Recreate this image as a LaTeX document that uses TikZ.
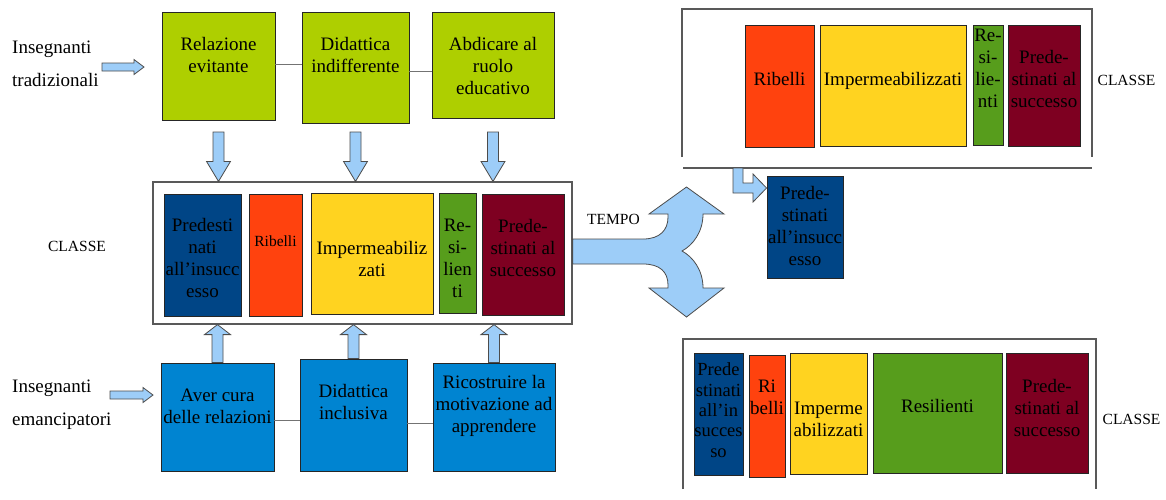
\documentclass[tikz,border=0pt]{standalone}
\usepackage{fontspec}
\setmainfont{Liberation Serif}
\usetikzlibrary{fit,calc}
\definecolor{cLime}{HTML}{AECF00}
\definecolor{cBlue}{HTML}{0084D1}
\definecolor{cDark}{HTML}{004586}
\definecolor{cOrange}{HTML}{FF420E}
\definecolor{cYellow}{HTML}{FFD320}
\definecolor{cGreen}{HTML}{579D1C}
\definecolor{cMaroon}{HTML}{7E0021}
\definecolor{cArrow}{HTML}{9DCDF8}
\newcommand\fbig{\fontsize{19}{22}\selectfont}
\newcommand\fmid{\fontsize{18.5}{20.3}\selectfont}
\newcommand\fsm{\fontsize{15.5}{18}\selectfont}
\newcommand\flab{\fontsize{19}{33}\selectfont}
\newcommand\dnblk[2]{\draw[blk] let \p1=(#1.south), \p2=(#2.north) in
 (\x1-5.5pt,-132pt) -- (\x1+5.5pt,-132pt) -- (\x1+5.5pt,\y2+20pt) -- (\x1+12pt,\y2+20pt) -- (\x1,\y2) -- (\x1-12pt,\y2+20pt) -- (\x1-5.5pt,\y2+20pt) -- cycle;}
\newcommand\upblk[2]{\draw[blk] let \p1=(#1.north), \p2=(#2.south) in
 (\x1-5.5pt,\y1) -- (\x1+5.5pt,\y1) -- (\x1+5.5pt,\y2-10pt) -- (\x1+13pt,\y2-10pt) -- (\x1,\y2) -- (\x1-13pt,\y2-10pt) -- (\x1-5.5pt,\y2-10pt) -- cycle;}
\newcommand\rtblk[2]{\draw[blk] let \p1=(#1), \p2=(#2) in
 (\x1,\y1+4pt) -- (\x2-10pt,\y1+4pt) -- (\x2-10pt,\y1+7.5pt) -- (\x2,\y1) -- (\x2-10pt,\y1-7.5pt) -- (\x2-10pt,\y1-4pt) -- (\x1,\y1-4pt) -- cycle;}
\begin{document}
\begin{tikzpicture}[x=1pt,y=-1pt,
  bx/.style={draw=black!85, line width=0.9pt, inner sep=0pt},
  frm/.style={draw=black!65, line width=1.2pt},
  txt/.style={inner sep=0pt, align=center, font=\fbig, text=black},
  blk/.style={fill=cArrow, draw=black!70, line width=0.8pt, line join=miter},
  link/.style={draw=black!55, line width=1pt}]
\fill[white] (0,0) rectangle (1166,499);
\useasboundingbox (0,0) rectangle (1166,499);

% ---------- labels left
\node[txt, font=\flab, align=left, anchor=west] (tradl) at (12,63.5) {\strut Insegnanti\\\strut tradizionali};
\node[txt, font=\flab, align=left, anchor=west] (emanl) at (12,402) {\strut Insegnanti\\\strut emancipatori};
\coordinate (h1s) at (102,67); \coordinate (h1e) at (144,67);
\coordinate (h2s) at (110,395); \coordinate (h2e) at (153,395);
\rtblk{h1s}{h1e}
\rtblk{h2s}{h2e}

% ---------- top row
\node[bx, fill=cLime, fit={(162,12) (275,120)}] (rel) {};
\node[bx, fill=cLime, fit={(302,12) (409,123)}] (did) {};
\node[bx, fill=cLime, fit={(432,12) (554,118)}] (abd) {};
\node[txt] (relt) at (218.5,57) {\strut Relazione\\\strut evitante};
\node[txt] (didt) at (355.5,57) {\strut Didattica\\\strut indifferente};
\node[txt] (abdt) at (493,68) {\strut Abdicare al\\\strut ruolo\\\strut educativo};
\draw[link] (rel.east |- 0,64) -- (did.west |- 0,64);
\draw[link] (did.east |- 0,71) -- (abd.west |- 0,71);

% ---------- bottom row
\node[bx, fill=cBlue, fit={(161,363) (274,471)}] (ave) {};
\node[bx, fill=cBlue, fit={(300,359) (407,471)}] (inc) {};
\node[bx, fill=cBlue, fit={(433,363) (555,471)}] (ric) {};
\node[txt] (avet) at (217.5,408.5) {\strut Aver cura\\\strut delle relazioni};
\node[txt] (inct) at (353.5,404) {\strut Didattica\\\strut inclusiva};
\node[txt] (rict) at (494,406) {\strut Ricostruire la\\\strut motivazione ad\\\strut apprendere};
\draw[link] (ave.east |- 0,420) -- (inc.west |- 0,420);
\draw[link] (inc.east |- 0,423) -- (ric.west |- 0,423);

% ---------- middle class
\node[frm, inner sep=0pt, fit={(153,182) (572,324)}] (cls) {};
\node[bx, fill=cDark, fit={(164,194) (241,316)}] (p1) {};
\node[bx, fill=cOrange, fit={(249,194) (302,316)}] (r1) {};
\node[bx, fill=cYellow, fit={(311,193) (433,314)}] (i1) {};
\node[bx, fill=cGreen, fit={(439,193) (476,313)}] (s1) {};
\node[bx, fill=cMaroon, fit={(482,194) (564,315)}] (q1) {};
\node[txt] (p1t) at (202.5,260.5) {\strut Predesti\\\strut nati\\\strut all’insucc\\\strut esso};
\node[txt, font=\fsm] (r1t) at (275.5,243) {\strut Ribelli};
\node[txt] (i1t) at (372,261) {\strut Impermeabiliz\\\strut zati};
\node[txt] (s1t) at (457.5,260) {\strut Re-\\\strut si-\\\strut lien\\\strut ti};
\node[txt] (q1t) at (523,250) {\strut Prede-\\\strut stinati al\\\strut successo};
\node[txt, font=\fsm] (clsl) at (77,246) {CLASSE};

\dnblk{rel}{cls}
\dnblk{did}{cls}
\dnblk{abd}{cls}
\upblk{ave}{cls}
\upblk{inc}{cls}
\upblk{ric}{cls}

% ---------- split arrow
\draw[blk] (cls.east |- 0,239) -- (643,239) .. controls (660,239) and (668,230) .. (668,217) -- (668,214) -- (649,214) -- (686.5,187) -- (724,214) -- (703,214) .. controls (703,232) and (693,245) .. (682,251) .. controls (693,257) and (703,270) .. (703,288) -- (724,288) -- (686.5,317) -- (649,288) -- (668,288) -- (668,285) .. controls (668,272) and (660,264) .. (643,264) -- (cls.east |- 0,264) -- cycle;
\node[txt, font=\fsm] (tempo) at (613.5,219) {TEMPO};

% ---------- top right class
\draw[frm] (682,157) -- (682,9) -- (1092,9) -- (1092,157);
\draw[frm] (683,168) -- (1092,168);
\node[bx, fill=cOrange, fit={(745,25) (814,147)}] (r2) {};
\node[bx, fill=cYellow, fit={(820,25) (966,146)}] (i2) {};
\node[bx, fill=cGreen, fit={(973,25) (1003,145)}] (s2) {};
\node[bx, fill=cMaroon, fit={(1008,25) (1080,146)}] (q2) {};
\node[txt] (r2t) at (779.5,81) {\strut Ribelli};
\node[txt] (i2t) at (893,81) {\strut Impermeabilizzati};
\node[txt] (s2t) at (988,70.5) {\strut Re-\\\strut si-\\\strut lie-\\\strut nti};
\node[txt] (q2t) at (1044,81) {\strut Prede-\\\strut stinati al\\\strut successo};
\node[txt, font=\fsm] (cls2l) at (1126.5,80) {CLASSE};
\node[bx, fill=cDark, fit={(767,176) (843,278)}] (p3) {};
\node[txt] (p3t) at (805,228) {\strut Prede-\\\strut stinati\\\strut all’insucc\\\strut esso};
\coordinate (lb) at (738,168);
\draw[blk] (733,168) -- (743,168) -- (743,183) -- (753,183) -- (753,174) -- (p3.west |- 0,188) -- (753,202) -- (753,193) -- (733,193) -- cycle;

% ---------- bottom right class
\draw[frm] (683,489) -- (683,339) -- (1096,339) -- (1096,489);
\node[bx, fill=cDark, fit={(694,353) (743,475)}] (p4) {};
\node[bx, fill=cOrange, fit={(749,355) (785,477)}] (r4) {};
\node[bx, fill=cYellow, fit={(790,353) (867,474)}] (i4) {};
\node[bx, fill=cGreen, fit={(873,353) (1002,473)}] (s4) {};
\node[bx, fill=cMaroon, fit={(1006,353) (1088,473)}] (q4) {};
\node[txt, font=\fmid] (p4t) at (718.5,412.5) {\strut Prede\\\strut stinati\\\strut all’in\\\strut succes\\\strut so};
\node[txt] (r4t) at (767,399) {\strut Ri\\\strut belli};
\node[txt] (i4t) at (828.5,421) {\strut Imperme\\\strut abilizzati};
\node[txt] (s4t) at (937.5,408) {\strut Resilienti};
\node[txt] (q4t) at (1047,410) {\strut Prede-\\\strut stinati al\\\strut successo};
\node[txt, font=\fsm] (cls3l) at (1131.5,419) {CLASSE};
\end{tikzpicture}
\end{document}
